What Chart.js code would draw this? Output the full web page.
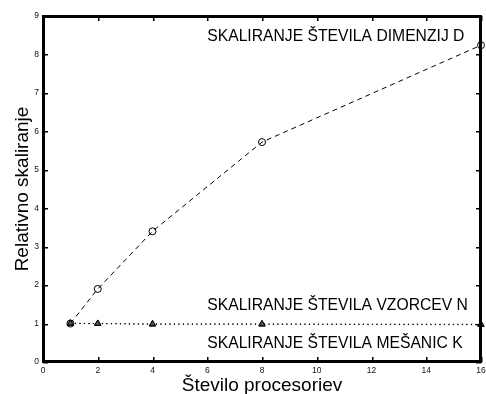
<!DOCTYPE html>
<html>
<head>
<meta charset="utf-8">
<script src="https://cdn.jsdelivr.net/npm/chart.js@4/dist/chart.umd.min.js"></script>
<style>
  html, body { margin: 0; padding: 0; background: #fff; }
  #wrap { width: 486px; height: 394px; }
</style>
</head>
<body>
<div id="wrap"><canvas id="c" width="486" height="394"></canvas></div>
<script>
// Number of processors and measured relative scaling for each experiment
const processors = [1, 2, 4, 8, 16];
const scalingD = [1.0, 1.9, 3.4, 5.72, 8.24];   // dimensions D
const scalingN = [1.01, 1.0, 0.99, 0.99, 0.98];  // samples N
const scalingK = [1.0, 1.0, 0.98, 0.98, 0.97];   // mixture components K

const xTicks = [0, 2, 4, 6, 8, 10, 12, 14, 16];
const yTicks = [0, 1, 2, 3, 4, 5, 6, 7, 8, 9];

const xTitle = 'Število procesoriev';
const yTitle = 'Relativno skaliranje';
const curveTexts = [
  'SKALIRANJE ŠTEVILA DIMENZIJ D',
  'SKALIRANJE ŠTEVILA VZORCEV N',
  'SKALIRANJE ŠTEVILA MEŠANIC K'
];

const FONT = '"Liberation Sans", Arial, Helvetica, sans-serif';

const toPoints = vals => processors.map((p, i) => ({ x: p, y: vals[i] }));

// Box around the plot with inward tick marks, axis titles and curve captions
const axesBoxPlugin = {
  id: 'axesBox',
  afterDraw(chart) {
    const { ctx, chartArea: a, scales } = chart;
    const xs = scales.x, ys = scales.y;
    ctx.save();
    ctx.fillStyle = '#000';
    // box
    ctx.fillRect(a.left - 1, a.top - 1, 3, a.bottom - a.top + 2);
    ctx.fillRect(a.right - 2, a.top - 1, 3, a.bottom - a.top + 2);
    ctx.fillRect(a.left - 1, a.top - 1, a.right - a.left + 2, 3);
    ctx.fillRect(a.left - 1, a.bottom - 2, a.right - a.left + 2, 3);

    // inward tick marks on all four sides
    const tl = 5;
    xTicks.forEach(v => {
      const px = Math.round(xs.getPixelForValue(v));
      ctx.fillRect(px, a.bottom - tl, 1.5, tl);
      ctx.fillRect(px, a.top, 1.5, tl);
    });
    yTicks.forEach(v => {
      const py = Math.round(ys.getPixelForValue(v));
      ctx.fillRect(a.left, py, tl, 1.5);
      ctx.fillRect(a.right - tl, py, tl, 1.5);
    });

    // axis titles
    ctx.font = '19px ' + FONT;
    ctx.textAlign = 'center';
    ctx.textBaseline = 'alphabetic';
    ctx.fillText(xTitle, (a.left + a.right) / 2, 391);
    ctx.save();
    ctx.translate(28, (a.top + a.bottom) / 2);
    ctx.rotate(-Math.PI / 2);
    ctx.fillText(yTitle, 0, 0);
    ctx.restore();

    // captions anchored in data coordinates
    const anchors = [[6, 8.35], [6, 1.35], [6, 0.36]];
    ctx.font = '15.7px ' + FONT;
    ctx.textAlign = 'left';
    curveTexts.forEach((t, i) => {
      ctx.fillText(t, xs.getPixelForValue(anchors[i][0]), ys.getPixelForValue(anchors[i][1]));
    });
    ctx.restore();
  }
};

new Chart(document.getElementById('c'), {
  type: 'line',
  data: {
    datasets: [
      {
        data: toPoints(scalingN),
        borderColor: '#000', borderWidth: 1, borderDash: [1.2, 3.3],
        pointStyle: 'triangle', pointRadius: 3.6,
        pointBackgroundColor: '#555', pointBorderColor: '#000', pointBorderWidth: 1,
        clip: false, tension: 0
      },
      {
        data: toPoints(scalingK),
        borderColor: '#000', borderWidth: 1, borderDash: [1.2, 3.3],
        pointStyle: 'triangle', pointRadius: 3.6,
        pointBackgroundColor: 'rgba(0,0,0,0)', pointBorderColor: '#000', pointBorderWidth: 1,
        clip: false, tension: 0
      },
      {
        data: toPoints(scalingD),
        borderColor: '#000', borderWidth: 1, borderDash: [5, 4],
        pointStyle: 'circle', pointRadius: 3.5,
        pointBackgroundColor: 'rgba(0,0,0,0)', pointBorderColor: '#000', pointBorderWidth: 1,
        clip: false, tension: 0
      }
    ]
  },
  options: {
    responsive: false,
    animation: false,
    devicePixelRatio: 1,
    layout: { padding: { top: 16, right: 5, left: 0, bottom: 0 } },
    plugins: { legend: { display: false }, tooltip: { enabled: false } },
    scales: {
      x: {
        type: 'linear', min: 0, max: 16,
        afterBuildTicks: s => { s.ticks = xTicks.map(v => ({ value: v })); },
        grid: { display: false, drawTicks: false }, border: { display: false },
        ticks: { font: { size: 8.5, family: FONT }, color: '#111', padding: 4, maxRotation: 0, autoSkip: false },
        afterFit: s => { s.height = 32; s.paddingLeft = 0; s.paddingRight = 0; }
      },
      y: {
        type: 'linear', min: 0, max: 9,
        afterBuildTicks: s => { s.ticks = yTicks.map(v => ({ value: v })); },
        grid: { display: false, drawTicks: false }, border: { display: false },
        ticks: { font: { size: 8.5, family: FONT }, color: '#111', padding: 4, autoSkip: false },
        afterFit: s => { s.width = 43; s.paddingTop = 0; s.paddingBottom = 0; }
      }
    }
  },
  plugins: [axesBoxPlugin]
});
</script>
</body>
</html>
